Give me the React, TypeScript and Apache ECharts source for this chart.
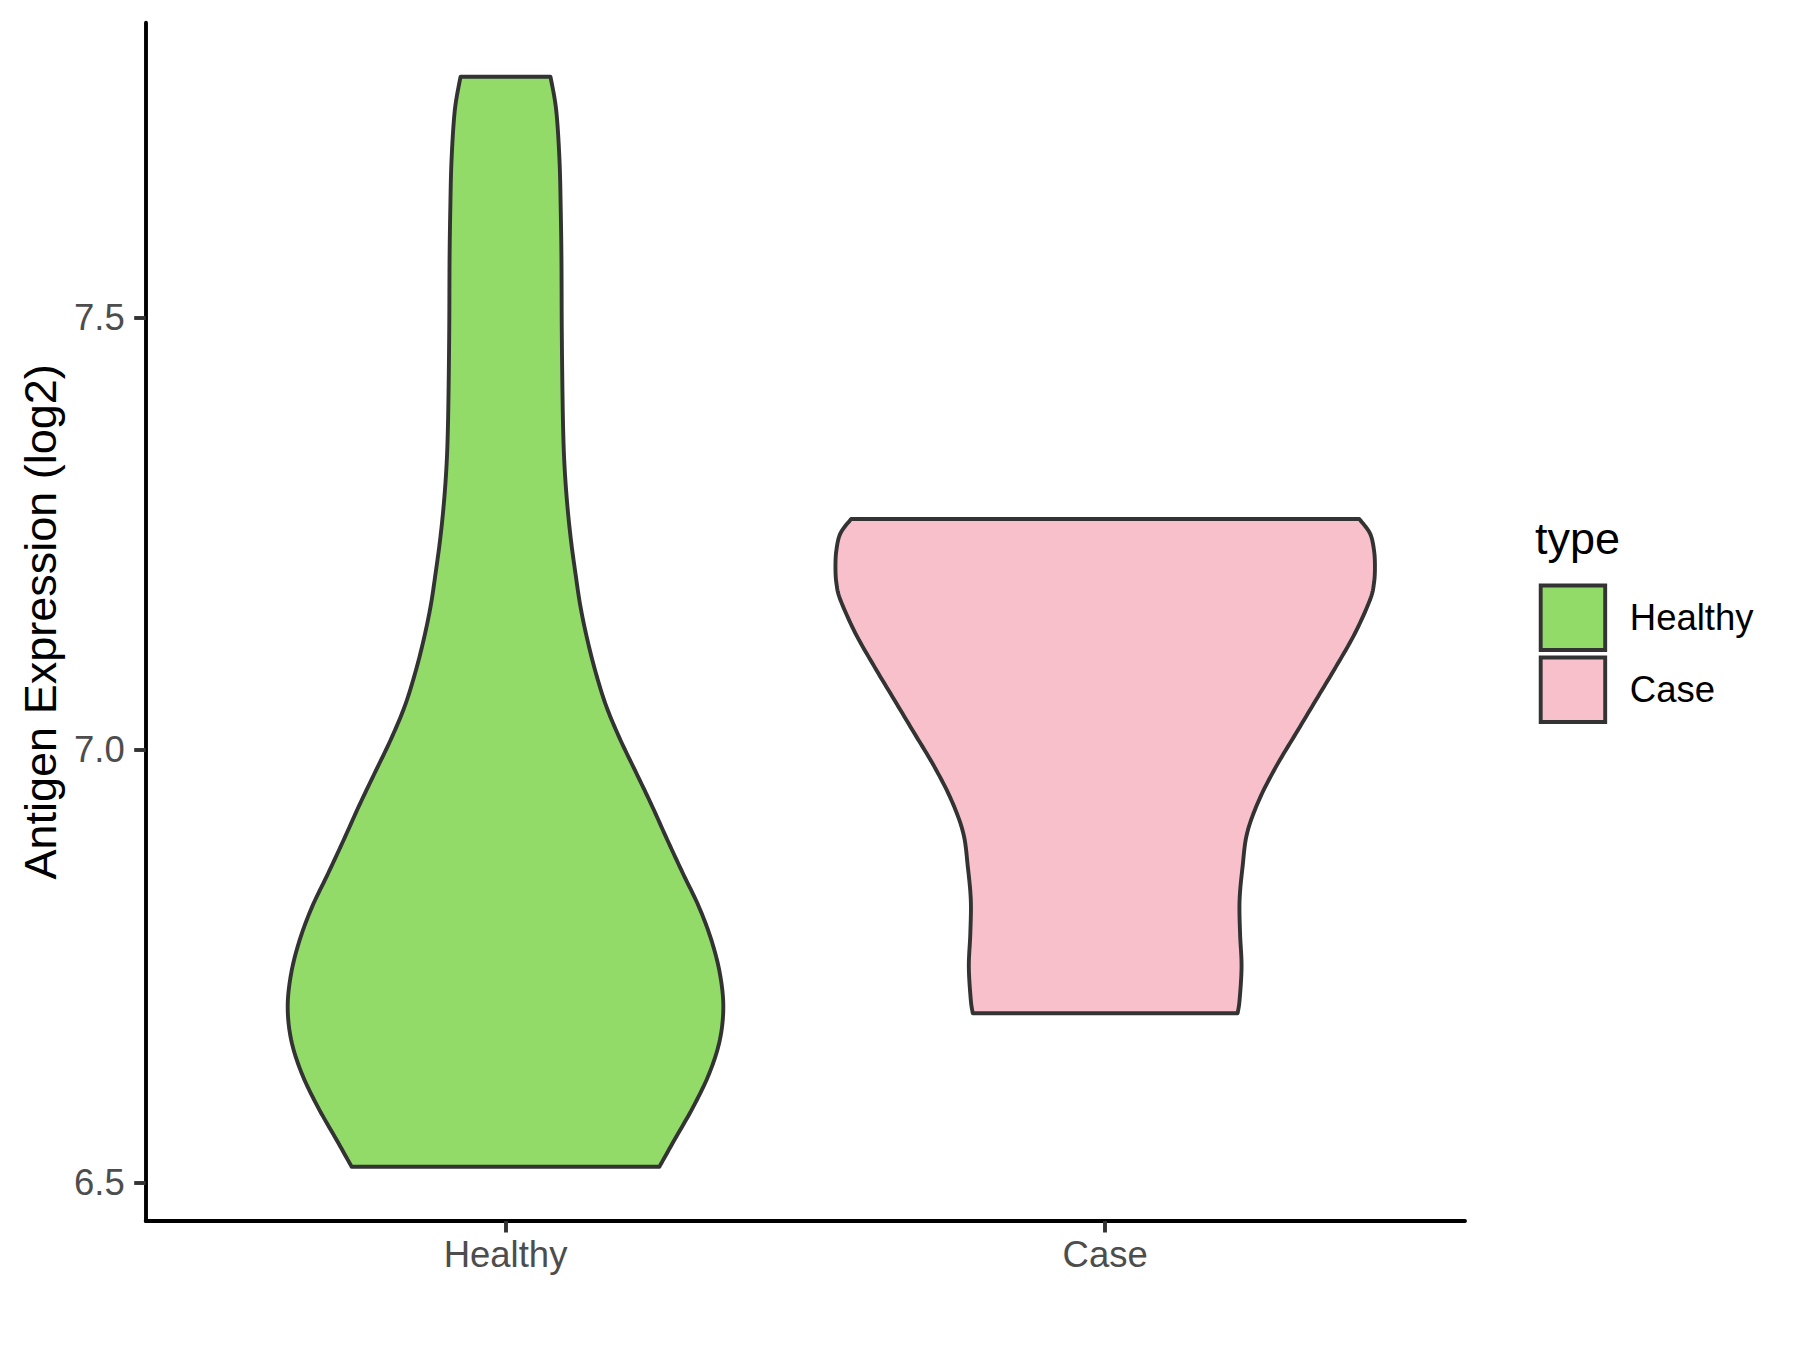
import React, { useEffect, useRef } from 'react';
import * as echarts from 'echarts';

// ---- Data ----
const categories = ['Healthy', 'Case'];
const categoryPositions = [1, 2];
const yTicks = [6.5, 7.0, 7.5];
const legendTitle = 'type';
const yAxisTitle = 'Antigen Expression (log2)';

// Violin outlines: expression values (top -> bottom) and half-widths (in category units)
const healthyY = [7.7787, 7.7402, 7.6824, 7.6245, 7.5667, 7.4896, 7.4129, 7.3585, 7.32, 7.2814, 7.2429, 7.2044, 7.1658, 7.1272, 7.0887, 7.0501, 7.0116, 6.9731, 6.9344, 6.8959, 6.8574, 6.8188, 6.7803, 6.7417, 6.7031, 6.6646, 6.6261, 6.5874, 6.5489, 6.518];
const healthyHalfWidth = [0.075, 0.0845, 0.09, 0.0921, 0.0933, 0.0938, 0.095, 0.0966, 0.0991, 0.1033, 0.1091, 0.1166, 0.125, 0.1366, 0.1508, 0.1683, 0.1916, 0.2183, 0.2449, 0.2699, 0.2957, 0.3224, 0.3432, 0.3574, 0.3632, 0.3574, 0.3399, 0.3132, 0.2816, 0.2566];
const caseY = [7.2672, 7.2506, 7.2313, 7.212, 7.1928, 7.1735, 7.135, 7.0964, 7.0578, 7.0193, 6.9807, 6.9422, 6.9037, 6.865, 6.8265, 6.788, 6.7494, 6.7108, 6.6955];
const caseHalfWidth = [0.4237, 0.4415, 0.4482, 0.4498, 0.4482, 0.4415, 0.4165, 0.3849, 0.3515, 0.3182, 0.2849, 0.2566, 0.2366, 0.2291, 0.2241, 0.2249, 0.2274, 0.2241, 0.2208];

const fillColors = ['#93DB69', '#F7C0CB'];
const outlineColor = '#333333';
const FONT = "'Liberation Sans', Arial, sans-serif";
const LINE_W = 3.9;

// Catmull-Rom curve through pixel points (drawing only)
function spline(pts: number[][], steps = 10): number[][] {
  const out: number[][] = [];
  const n = pts.length;
  for (let i = 0; i < n - 1; i++) {
    const p0 = pts[Math.max(0, i - 1)];
    const p1 = pts[i];
    const p2 = pts[i + 1];
    const p3 = pts[Math.min(n - 1, i + 2)];
    for (let s = 0; s < steps; s++) {
      const t = s / steps;
      const t2 = t * t;
      const t3 = t2 * t;
      const f = (a: number, b: number, c: number, d: number) =>
        0.5 * (2 * b + (-a + c) * t + (2 * a - 5 * b + 4 * c - d) * t2 + (-a + 3 * b - 3 * c + d) * t3);
      out.push([f(p0[0], p1[0], p2[0], p3[0]), f(p0[1], p1[1], p2[1], p3[1])]);
    }
  }
  out.push(pts[n - 1]);
  return out;
}

function makeRenderItem(ys: number[], hws: number[], fill: string) {
  return (params: any, api: any) => {
    const cx = api.value(0);
    const leftPts = spline(ys.map((y, i) => api.coord([cx - hws[i], y])));
    const rightPts = spline(ys.map((y, i) => api.coord([cx + hws[i], y])));
    const outline = leftPts.concat(rightPts.slice().reverse());
    return {
      type: 'polygon',
      shape: { points: outline },
      style: { fill, stroke: outlineColor, lineWidth: LINE_W, lineJoin: 'round' },
    };
  };
}

export default function App() {
  const ref = useRef<HTMLDivElement>(null);
  useEffect(() => {
    if (!ref.current) return;
    const chart = echarts.init(ref.current, undefined, { renderer: 'svg' });
    const profiles = [
      { y: healthyY, hw: healthyHalfWidth },
      { y: caseY, hw: caseHalfWidth },
    ];
    chart.setOption({
      animation: false,
      backgroundColor: '#ffffff',
      title: {
        text: legendTitle,
        left: 1535,
        top: 516,
        padding: 0,
        textStyle: { fontSize: 45, fontWeight: 'normal', color: '#000000', fontFamily: FONT },
      },
      legend: {
        orient: 'vertical',
        left: 1538.75,
        top: 583.5,
        padding: 0,
        itemWidth: 64.5,
        itemHeight: 64.5,
        itemGap: 3.7,
        icon: 'rect',
        selectedMode: false,
        itemStyle: { borderColor: outlineColor, borderWidth: LINE_W },
        textStyle: { fontSize: 36.5, color: '#000000', fontFamily: FONT, padding: [0, 0, 0, 19.6] },
        data: categories,
      },
      grid: { left: 145.7, right: 335, top: 22.7, bottom: 129, containLabel: false },
      xAxis: {
        type: 'value',
        min: 0.4,
        max: 2.6,
        splitLine: { show: false },
        axisLine: { show: true, onZero: false, lineStyle: { color: '#000000', width: LINE_W } },
        axisTick: {
          show: true,
          length: 11.5,
          customValues: categoryPositions,
          lineStyle: { color: outlineColor, width: LINE_W },
        },
        axisLabel: {
          show: true,
          customValues: categoryPositions,
          margin: 14.7,
          fontSize: 36.5,
          color: '#4D4D4D',
          fontFamily: FONT,
          formatter: (v: number) => categories[categoryPositions.indexOf(Math.round(v))] ?? '',
        },
      },
      yAxis: {
        type: 'value',
        min: 6.4552,
        max: 7.8412,
        name: yAxisTitle,
        nameLocation: 'middle',
        nameGap: 82,
        nameTextStyle: { fontSize: 45, color: '#000000', fontFamily: FONT },
        splitLine: { show: false },
        axisLine: { show: true, onZero: false, lineStyle: { color: '#000000', width: LINE_W } },
        axisTick: {
          show: true,
          length: 11.5,
          customValues: yTicks,
          lineStyle: { color: outlineColor, width: LINE_W },
        },
        axisLabel: {
          show: true,
          customValues: yTicks,
          margin: 21,
          fontSize: 36.5,
          color: '#4D4D4D',
          fontFamily: FONT,
          formatter: (v: number) => v.toFixed(1),
        },
      },
      series: categories.map((name, i) => ({
        type: 'custom',
        name,
        coordinateSystem: 'cartesian2d',
        itemStyle: { color: fillColors[i] },
        encode: { x: 0, y: 1 },
        data: [[categoryPositions[i], profiles[i].y[0]]],
        renderItem: makeRenderItem(profiles[i].y, profiles[i].hw, fillColors[i]),
      })),
    });
    return () => chart.dispose();
  }, []);
  return (
    <div
      ref={ref}
      style={{ position: 'fixed', left: 0, top: 0, width: 1800, height: 1350, background: '#fff' }}
    />
  );
}
